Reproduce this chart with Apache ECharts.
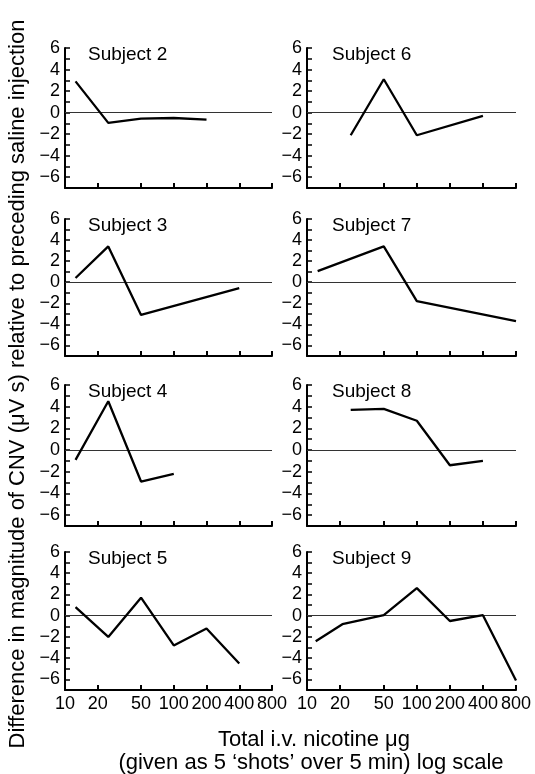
<!DOCTYPE html>
<html>
<head>
<meta charset="utf-8">
<script src="https://cdn.jsdelivr.net/npm/echarts@6/dist/echarts.min.js"></script>
<style>
  html, body { margin: 0; padding: 0; background: #fff; }
  #chart { width: 535px; height: 774px; }
</style>
</head>
<body>
<div id="chart"></div>
<script>
// ---- data ----
const subjectNames = ['Subject 2', 'Subject 3', 'Subject 4', 'Subject 5', 'Subject 6', 'Subject 7', 'Subject 8', 'Subject 9'];

const s2Dose = [12.5, 25, 50, 100, 200];
const s2Val  = [2.9, -0.95, -0.55, -0.5, -0.65];
const s3Dose = [12.5, 25, 50, 400];
const s3Val  = [0.4, 3.4, -3.1, -0.55];
const s4Dose = [12.5, 25, 50, 100];
const s4Val  = [-0.9, 4.5, -2.9, -2.2];
const s5Dose = [12.5, 25, 50, 100, 200, 400];
const s5Val  = [0.8, -2.0, 1.7, -2.8, -1.2, -4.5];
const s6Dose = [25, 50, 100, 400];
const s6Val  = [-2.1, 3.1, -2.1, -0.3];
const s7Dose = [12.5, 50, 100, 800];
const s7Val  = [1.05, 3.4, -1.8, -3.7];
const s8Dose = [25, 50, 100, 200, 400];
const s8Val  = [3.7, 3.8, 2.7, -1.4, -1.0];
const s9Dose = [12, 21, 50, 100, 200, 400, 800];
const s9Val  = [-2.4, -0.8, 0.05, 2.6, -0.5, 0.05, -6.1];

const xTickValues = [10, 20, 50, 100, 200, 400, 800];
const yLabelValues = [-6, -4, -2, 0, 2, 4, 6];
const yTickValues = [-6, -5, -4, -3, -2, -1, 0, 1, 2, 3, 4, 5, 6];

const yTitle = 'Difference in magnitude of CNV (\u03bcV s) relative to preceding saline injection';
const xTitle1 = 'Total i.v. nicotine \u03bcg';
const xTitle2 = '(given as 5 \u2018shots\u2019 over 5 min) log scale';

// ---- layout ----
const panels = [
  { dose: s2Dose, val: s2Val }, { dose: s3Dose, val: s3Val },
  { dose: s4Dose, val: s4Val }, { dose: s5Dose, val: s5Val },
  { dose: s6Dose, val: s6Val }, { dose: s7Dose, val: s7Val },
  { dose: s8Dose, val: s8Val }, { dose: s9Dose, val: s9Val }
];
const colLeft = [65, 307];
const colWidth = [207, 209];
const rowTop = [48, 219, 385, 552];
const rowBottom = [188, 356, 526, 690];

const FONT = "'Liberation Sans', Arial, Helvetica, sans-serif";

const grids = [], xAxes = [], yAxes = [], series = [], titles = [];
panels.forEach((p, i) => {
  const col = i < 4 ? 0 : 1;
  const row = i % 4;
  grids.push({
    left: colLeft[col], width: colWidth[col],
    top: rowTop[row], height: rowBottom[row] - rowTop[row]
  });
  xAxes.push({
    type: 'log', logBase: 10, min: 10, max: 800, gridIndex: i,
    axisLine: { show: true, onZero: false, lineStyle: { color: '#000', width: 2 } },
    axisTick: { show: true, inside: true, length: 5, customValues: xTickValues.slice(1), lineStyle: { color: '#000', width: 2 } },
    minorTick: { show: false },
    splitLine: { show: false },
    axisLabel: {
      show: row === 3, customValues: xTickValues, margin: 5,
      color: '#000', fontSize: 18, fontFamily: FONT,
      formatter: v => String(Math.round(v))
    }
  });
  yAxes.push({
    type: 'value', min: -7, max: 6, interval: 1, gridIndex: i,
    axisLine: { show: true, onZero: false, lineStyle: { color: '#000', width: 2 } },
    axisTick: { show: true, inside: true, length: 5, customValues: yTickValues, lineStyle: { color: '#000', width: 1.5 } },
    splitLine: { show: false },
    axisLabel: {
      customValues: yLabelValues, margin: 5,
      color: '#000', fontSize: 18, fontFamily: FONT,
      formatter: v => (v < 0 ? '\u2212' + Math.abs(v) : String(v))
    }
  });
  series.push({
    type: 'line', xAxisIndex: i, yAxisIndex: i,
    data: p.dose.map((d, k) => [d, p.val[k]]),
    symbol: 'none', lineStyle: { color: '#000', width: 2.3 },
    z: 5,
    markLine: {
      silent: true, symbol: 'none', label: { show: false },
      lineStyle: { color: '#333', width: 1, type: 'solid' },
      data: [{ yAxis: 0 }]
    }
  });
  titles.push({
    text: subjectNames[i],
    left: colLeft[col] + (col === 0 ? 23 : 25),
    top: rowTop[row] - 3,
    padding: 0,
    textStyle: { color: '#000', fontSize: 19, fontWeight: 'normal', fontFamily: FONT }
  });
});

const chart = echarts.init(document.getElementById('chart'), null, { renderer: 'canvas' });
chart.setOption({
  animation: false,
  backgroundColor: '#fff',
  title: titles,
  grid: grids,
  xAxis: xAxes,
  yAxis: yAxes,
  series: series,
  graphic: [
    {
      type: 'text', x: 18, y: 384, rotation: Math.PI / 2,
      style: { text: yTitle, fill: '#000', font: '22px ' + FONT, textAlign: 'center', textVerticalAlign: 'middle' }
    },
    {
      type: 'text', x: 314, y: 740,
      style: { text: xTitle1, fill: '#000', font: '22px ' + FONT, textAlign: 'center', textVerticalAlign: 'middle' }
    },
    {
      type: 'text', x: 311, y: 763,
      style: { text: xTitle2, fill: '#000', font: '22px ' + FONT, textAlign: 'center', textVerticalAlign: 'middle' }
    }
  ]
});
</script>
</body>
</html>
